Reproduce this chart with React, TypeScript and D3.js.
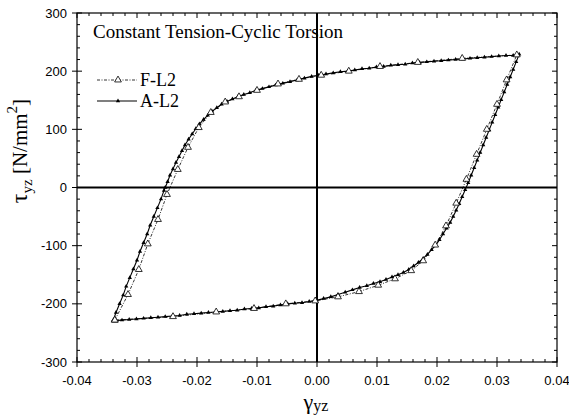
import * as d3 from "d3";

// F-L2 (open triangles, dash-dot line): [shear strain, shear stress]
const fStrain = [
  -0.0337, -0.0315, -0.0297, -0.0282, -0.0265, -0.025, -0.0232, -0.0215, -0.0197, -0.0177,
  -0.0153, -0.013, -0.01, -0.0065, -0.003, 0.0007, 0.0053, 0.0105, 0.0168, 0.0242,
  0.0333, 0.0316, 0.03, 0.0283, 0.0266, 0.0249, 0.0232, 0.0215, 0.0197, 0.0177,
  0.0157, 0.013, 0.0102, 0.007, 0.0035, -0.0003, -0.0052, -0.0105, -0.0168, -0.024, -0.0337,
];
const fStress = [
  -228, -184, -141, -97, -55, -12, 31, 69, 103, 129,
  147, 156, 167, 178, 186, 193, 200, 208, 215, 222,
  228, 185, 143, 100, 57, 14, -27, -66, -99, -126,
  -143, -157, -168, -179, -188, -195, -200, -208, -214, -222, -228,
];

// A-L2 (small filled triangles, solid line)
const aStrain = [
  -0.034, -0.0335, -0.0329, -0.0323, -0.0318, -0.0312, -0.0306, -0.03, -0.0295, -0.0289,
  -0.0283, -0.0278, -0.0272, -0.0266, -0.026, -0.0255, -0.0253, -0.0249, -0.0245, -0.024,
  -0.0235, -0.023, -0.0225, -0.022, -0.0214, -0.0208, -0.0202, -0.0196, -0.0189, -0.0182,
  -0.0175, -0.0167, -0.0159, -0.015, -0.0141, -0.0132, -0.0122, -0.0112, -0.0102, -0.0091,
  -0.008, -0.0069, -0.0057, -0.0045, -0.0033, -0.0021, -0.0009, 0.0003, 0.0015, 0.0027,
  0.0039, 0.0051, 0.0063, 0.0075, 0.0087, 0.0099, 0.0111, 0.0123, 0.0135, 0.0147,
  0.0159, 0.0171, 0.0183, 0.0195, 0.0207, 0.0219, 0.0231, 0.0243, 0.0255, 0.0267,
  0.0279, 0.0291, 0.0303, 0.0315, 0.0327, 0.0337, 0.0332, 0.0327, 0.0322, 0.0317,
  0.0312, 0.0307, 0.0302, 0.0297, 0.0292, 0.0287, 0.0282, 0.0277, 0.0272, 0.0267,
  0.0262, 0.0257, 0.0252, 0.0247, 0.0242, 0.0237, 0.0232, 0.0227, 0.0222, 0.0216,
  0.021, 0.0204, 0.0198, 0.0191, 0.0184, 0.0177, 0.0169, 0.0161, 0.0153, 0.0144,
  0.0135, 0.0125, 0.0115, 0.0105, 0.0094, 0.0083, 0.0071, 0.0059, 0.0047, 0.0035,
  0.0023, 0.0011, -0.0001, -0.0013, -0.0025, -0.0037, -0.0049, -0.0061, -0.0073, -0.0085,
  -0.0097, -0.0109, -0.0121, -0.0133, -0.0145, -0.0157, -0.0169, -0.0181, -0.0193, -0.0205,
  -0.0217, -0.0229, -0.0241, -0.0253, -0.0265, -0.0277, -0.0289, -0.0301, -0.0313, -0.0325,
  -0.034,
];
const aStress = [
  -229, -215, -200, -185, -170, -155, -140, -125, -110, -95,
  -80, -65, -50, -35, -20, -5, 0, 10, 21, 32,
  43, 53, 63, 73, 83, 92, 101, 109, 117, 124,
  131, 137, 143, 148, 152, 156, 160, 163, 167, 170,
  173, 176, 179, 182, 185, 188, 191, 193, 195, 197,
  199, 200, 202, 204, 205, 207, 208, 210, 211, 212,
  214, 215, 216, 217, 218, 219, 220, 221, 222, 223,
  224, 225, 226, 227, 227, 229, 216, 203, 190, 177,
  164, 151, 138, 125, 112, 99, 86, 73, 60, 47,
  34, 21, 8, -4, -16, -28, -39, -50, -60, -70,
  -80, -90, -99, -107, -115, -122, -129, -135, -141, -146,
  -150, -154, -158, -162, -165, -169, -172, -176, -180, -184,
  -188, -191, -194, -196, -198, -199, -200, -202, -204, -205,
  -207, -208, -209, -211, -212, -213, -214, -215, -216, -217,
  -218, -220, -221, -222, -223, -224, -225, -226, -227, -228,
  -229,
];

const xMajor = [-0.04, -0.03, -0.02, -0.01, 0, 0.01, 0.02, 0.03, 0.04];
const yMajor = [-300, -200, -100, 0, 100, 200, 300];

const W = 569;
const H = 416;
const left = 77, right = 557, top = 13, bottom = 362;

const x = d3.scaleLinear().domain([-0.04, 0.04]).range([left, right]);
const y = d3.scaleLinear().domain([-300, 300]).range([bottom, top]);

const xMinor = d3.range(-0.04, 0.0401, 0.002).filter((v) => Math.abs(Math.round(v * 100) - v * 100) > 1e-6);
const yMinor = d3.range(-300, 301, 20).filter((v) => v % 100 !== 0);

const fPts = fStrain.map((s, i) => [s, fStress[i]] as [number, number]);
const aPts = aStrain.map((s, i) => [s, aStress[i]] as [number, number]);

const line = d3
  .line<[number, number]>()
  .x((d) => x(d[0]))
  .y((d) => y(d[1]));

const openTri = d3.symbol(d3.symbolTriangle, 20)();
const smallTri = d3.symbol(d3.symbolTriangle, 8)();

const sans = "Liberation Sans, Arial, sans-serif";
const serif = "Liberation Serif, Times New Roman, DejaVu Serif, serif";

export default function App() {
  return (
    <svg
      width={W}
      height={H}
      style={{ position: "absolute", left: 0, top: 0, background: "#fff" }}
    >
      <rect x={0} y={0} width={W} height={H} fill="#fff" />

      {/* zero lines */}
      <line x1={left} x2={right} y1={y(0)} y2={y(0)} stroke="#000" strokeWidth={2} />
      <line x1={x(0)} x2={x(0)} y1={top} y2={bottom} stroke="#000" strokeWidth={2} />

      {/* frame */}
      <rect x={left} y={top} width={right - left} height={bottom - top} fill="none" stroke="#000" strokeWidth={1.2} />

      {/* x ticks */}
      {xMajor.map((v) => (
        <g key={"xm" + v}>
          <line x1={x(v)} x2={x(v)} y1={bottom - 5} y2={bottom + 5} stroke="#000" />
          <line x1={x(v)} x2={x(v)} y1={top} y2={top + 5} stroke="#000" />
          <text x={x(v)} y={bottom + 23} textAnchor="middle" fontFamily={sans} fontSize={13}>
            {v.toFixed(2)}
          </text>
        </g>
      ))}
      {xMinor.map((v) => (
        <g key={"xn" + v}>
          <line x1={x(v)} x2={x(v)} y1={bottom - 3} y2={bottom} stroke="#000" />
          <line x1={x(v)} x2={x(v)} y1={top} y2={top + 3} stroke="#000" />
        </g>
      ))}

      {/* y ticks */}
      {yMajor.map((v) => (
        <g key={"ym" + v}>
          <line x1={left - 5} x2={left + 5} y1={y(v)} y2={y(v)} stroke="#000" />
          <line x1={right - 5} x2={right} y1={y(v)} y2={y(v)} stroke="#000" />
          <text x={left - 10} y={y(v) + 4.5} textAnchor="end" fontFamily={sans} fontSize={13}>
            {v}
          </text>
        </g>
      ))}
      {yMinor.map((v) => (
        <g key={"yn" + v}>
          <line x1={left} x2={left + 3} y1={y(v)} y2={y(v)} stroke="#000" />
          <line x1={right - 3} x2={right} y1={y(v)} y2={y(v)} stroke="#000" />
        </g>
      ))}

      {/* series */}
      <path d={line(aPts) ?? ""} fill="none" stroke="#000" strokeWidth={1.1} />
      {aPts.map((d, i) => (
        <path key={"a" + i} d={smallTri ?? ""} transform={`translate(${x(d[0])},${y(d[1])})`} fill="#000" />
      ))}
      <path d={line(fPts) ?? ""} fill="none" stroke="#000" strokeWidth={0.8} strokeDasharray="3,1.5,1,1.5" />
      {fPts.map((d, i) => (
        <path key={"f" + i} d={openTri ?? ""} transform={`translate(${x(d[0])},${y(d[1])})`} fill="#fff" stroke="#000" strokeWidth={0.8} />
      ))}

      {/* title */}
      <text x={93} y={38} fontFamily={serif} fontSize={19}>
        Constant Tension-Cyclic Torsion
      </text>

      {/* legend */}
      <line x1={97} x2={137} y1={80} y2={80} stroke="#000" strokeWidth={0.8} strokeDasharray="3,1.5,1,1.5" />
      <path d={openTri ?? ""} transform="translate(118,80)" fill="#fff" stroke="#000" strokeWidth={0.8} />
      <text x={140} y={86} fontFamily={serif} fontSize={18}>F-L2</text>
      <line x1={97} x2={137} y1={101} y2={101} stroke="#000" strokeWidth={1.1} />
      <path d={smallTri ?? ""} transform="translate(118,101)" fill="#000" />
      <text x={140} y={107} fontFamily={serif} fontSize={18}>A-L2</text>

      {/* axis titles */}
      <text x={316} y={409} textAnchor="middle" fontFamily={serif}>
        <tspan fontSize={22}>γ</tspan>
        <tspan fontSize={16} dy={2}>yz</tspan>
      </text>
      <text transform="translate(27,151) rotate(-90)" textAnchor="middle" fontFamily={serif}>
        <tspan fontSize={24}>τ</tspan>
        <tspan fontSize={15} dy={5}>yz</tspan>
        <tspan fontSize={21} dy={-5}> [N/mm</tspan>
        <tspan fontSize={15} dy={-10}>2</tspan>
        <tspan fontSize={21} dy={10}>]</tspan>
      </text>
    </svg>
  );
}
